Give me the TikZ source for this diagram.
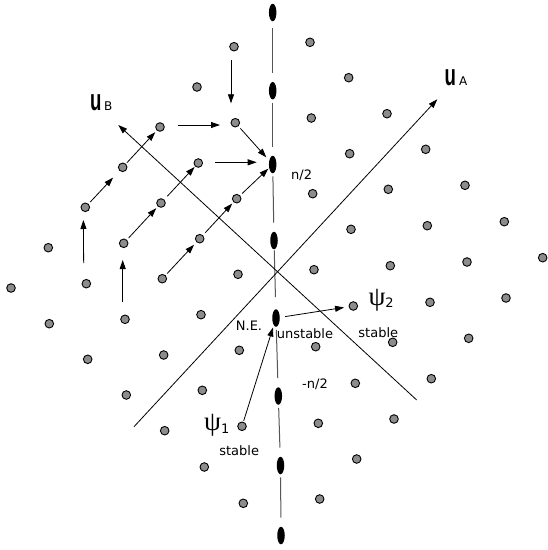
\documentclass[tikz,border=0pt]{standalone}
\usepackage{fontspec}
\setmainfont{DejaVu Sans}
\newfontfamily\psifont{Liberation Serif}
\newfontfamily\ufont{Liberation Sans}
\usetikzlibrary{arrows.meta,shapes.geometric}
\definecolor{dotgray}{RGB}{140,140,140}
\definecolor{chaingray}{RGB}{85,85,85}
\begin{document}
\begin{tikzpicture}[x=1pt,y=-1pt,
  dot/.style={circle,draw=black,fill=dotgray,line width=0.9pt,minimum size=8.6pt,inner sep=0pt},
  site/.style={ellipse,fill=black,draw=none,minimum width=7.5pt,minimum height=17.5pt,inner sep=0pt},
  arr/.style={-{Triangle[length=9pt,width=6pt]},line width=0.8pt},
  chainseg/.style={draw=chaingray,line width=1pt,shorten <=3pt,shorten >=9pt},
  lbl/.style={inner sep=0pt,font=\fontsize{13}{13}\selectfont},
  sub/.style={inner sep=0pt}
]
\useasboundingbox[fill=white] (0,0) rectangle (548,550);

% lattice of grey sites
\foreach \px/\py [count=\i] in {
  234/46.7, 197/87, 235.3/122.7, 160/127, 198.3/163, 122.7/167.3,
  236.7/198.7, 161/203, 85.3/207.3, 199.7/238.7, 123.7/243.3, 48.3/247.7,
  238/274.3, 162.3/278.7, 86.3/283.7, 11/288, 49.3/323.7, 125/319.3,
  201/314.7, 87.7/359.3, 163.7/355, 239.3/350.3, 126.3/395, 202.3/390.3,
  164.7/430.7, 242/426.3, 204.3/467, 243.3/503.3,
  310/42.3, 348.7/77.7, 311.3/118, 387/113.7, 349.7/153.7, 425.7/149.3,
  312.7/193.7, 388.3/189.3, 465/185.3, 351/229.3, 427.3/225.7, 504.3/221.7,
  314/269.7, 390.3/265.7, 467/262, 542.7/257.7, 353.3/306, 430/302.3,
  506/298, 315.7/346.7, 392.7/342.3, 468.7/338.3, 355.3/383.3, 431.3/378.7,
  318.3/423.3, 394/419, 356.7/459, 319.7/499}
  {\node[dot] (d\i) at (\px,\py) {};}

% black sites on the vertical chain
\foreach \px/\py [count=\i] in {
  272.7/12.5, 272.7/90.7, 272.7/164.5, 274/240.5,
  276/318, 278.3/396, 280.5/465.5, 281/535.5}
  {\node[site] (e\i) at (\px,\py) {};}

\draw[chainseg,shorten <=7pt] (e1) -- (e2);
\foreach \a/\b in {2/3,3/4,5/6,6/7,7/8}
  {\draw[chainseg] (e\a) -- (e\b);}
\draw[chainseg,shorten <=1pt,shorten >=12pt] (e4) -- (e5);

% axes
\coordinate (uA0) at (134,426.7);
\coordinate (uA1) at (437.3,99.3);
\coordinate (uB0) at (416.7,400);
\coordinate (uB1) at (118.3,125);
\draw[arr] (uA0) -- (uA1);
\draw[arr] (uB0) -- (uB1);

% arrows in the upper left
\draw[arr,shorten <=20.7pt,shorten >=12.7pt] ([xshift=-2.5pt]d15.center) -- ([xshift=-2pt]d9.center);
\draw[arr,shorten <=17.6pt,shorten >=16.7pt] ([xshift=-2.3pt]d18.center) -- ([xshift=-1pt]d11.center);
\draw[arr,shorten <=13.3pt,shorten >=19.4pt] ([xshift=-3pt]d1.center) -- ([xshift=-4.3pt]d3.center);
\draw[arr,shorten <=18.3pt,shorten >=15.3pt] ([yshift=2pt]d4.center) -- ([yshift=-2.3pt]d3.center);
\draw[arr,shorten <=16.7pt,shorten >=16pt] ([yshift=0.7pt]d5.center) -- ([yshift=2.2pt]e3.center);
\draw[arr,shorten <=2.5pt,shorten >=9.4pt] (d9) -- (d6);
\draw[arr,shorten <=1.4pt,shorten >=2.3pt] (d6) -- (d4);
\draw[arr,shorten <=2.5pt,shorten >=2.3pt] (d11) -- (d8);
\draw[arr,shorten <=4.5pt,shorten >=0.7pt] (d8) -- (d5);
\draw[arr,shorten <=2.3pt,shorten >=3.5pt] (d14) -- (d10);
\draw[arr,shorten <=3.5pt,shorten >=1.9pt] (d10) -- (d7);
\draw[arr,shorten <=2.7pt,shorten >=1pt] (d7) -- (e3);
\draw[arr,shorten <=3pt,shorten >=4.3pt] (d3) -- (e3);

% arrows near the equilibrium
\draw[arr,shorten <=0.9pt,shorten >=2.3pt] (d26) -- (e5);
\draw[arr,shorten <=5.2pt,shorten >=4.6pt] (e5) -- (d45);

% labels
\node[sub,anchor=base west] (luB) at (90,110)
  {\scalebox{0.62}[1]{\ufont\bfseries\fontsize{30}{30}\selectfont u}\hspace{2.5pt}{\fontsize{12}{12}\selectfont B}};
\node[sub,anchor=base west] (luA) at (444.5,85)
  {\scalebox{0.62}[1]{\ufont\bfseries\fontsize{30}{30}\selectfont u}\hspace{3pt}{\fontsize{12}{12}\selectfont A}};
\node[lbl,anchor=base west] (lnp) at (291,179.3) {n/2};
\node[lbl,anchor=base west] (lnm) at (302,388.3) {-n/2};
\node[lbl,anchor=base] (lne) at (249,330) {N.E.};
\node[lbl,anchor=base] (lun) at (305,338) {unstable};
\node[sub,anchor=base west] (lpsi1) at (204,430)
  {{\psifont\fontsize{27}{27}\selectfont ψ}\raisebox{-3pt}{\fontsize{13}{13}\selectfont 1}};
\node[lbl,anchor=base] (lst1) at (239.2,455) {stable};
\node[sub,anchor=base west] (lpsi2) at (368.3,305.5)
  {{\psifont\fontsize{27}{27}\selectfont ψ}\raisebox{-2pt}{\fontsize{13}{13}\selectfont 2}};
\node[lbl,anchor=base] (lst2) at (378.3,337.3) {stable};
\end{tikzpicture}
\end{document}
